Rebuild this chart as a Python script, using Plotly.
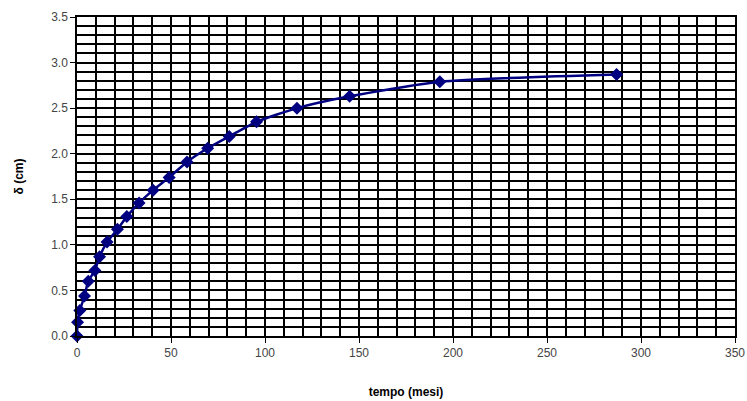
import plotly.graph_objects as go

tempo = [0, 0.3, 1.5, 4, 6, 9.5, 12, 16, 21.5, 26.5, 33, 40.5, 49, 58.5, 69.5, 81, 95.5, 117, 145, 193, 287]
delta = [0, 0.15, 0.28, 0.44, 0.60, 0.72, 0.87, 1.03, 1.17, 1.31, 1.46, 1.60, 1.74, 1.91, 2.06, 2.19, 2.35, 2.50, 2.63, 2.79, 2.87]

fig = go.Figure()
fig.add_trace(go.Scatter(
    x=tempo, y=delta, mode="lines+markers",
    line=dict(color="#000080", width=2.5, shape="spline", smoothing=0.6),
    marker=dict(symbol="diamond", size=10, color="#000080"),
    cliponaxis=False,
    showlegend=False,
))

font_family = "Liberation Sans, Arial, sans-serif"
fig.update_layout(
    width=747, height=401,
    margin=dict(l=77, r=12, t=17, b=65, autoexpand=False),
    paper_bgcolor="white", plot_bgcolor="white",
    font=dict(family=font_family, size=12, color="#444444"),
    xaxis=dict(
        range=[0, 350], dtick=50, tick0=0,
        showgrid=True, gridcolor="black", gridwidth=1.5,
        minor=dict(dtick=10, showgrid=True, gridcolor="black", gridwidth=1.5),
        showline=True, linecolor="black", linewidth=1.5, mirror=True,
        ticks="outside", ticklen=5, tickcolor="black",
        ticklabeloverflow="allow",
        zeroline=False,
        title=dict(text="<b>tempo (mesi)</b>", font=dict(size=12, color="black"), standoff=28),
    ),
    yaxis=dict(
        range=[0, 3.5], dtick=0.5, tick0=0, tickformat=".1f",
        showgrid=True, gridcolor="black", gridwidth=1.5,
        minor=dict(dtick=0.1, showgrid=True, gridcolor="black", gridwidth=1.5),
        showline=True, linecolor="black", linewidth=1.5, mirror=True,
        ticks="outside", ticklen=5, tickcolor="black",
        zeroline=False,
        title=dict(text="<b>δ (cm)</b>", font=dict(size=12, color="black"), standoff=25),
    ),
)

fig.write_html(
    "out.html",
    config={"displayModeBar": False},
    post_script="document.body.style.margin='0';document.body.style.overflow='hidden';",
)
